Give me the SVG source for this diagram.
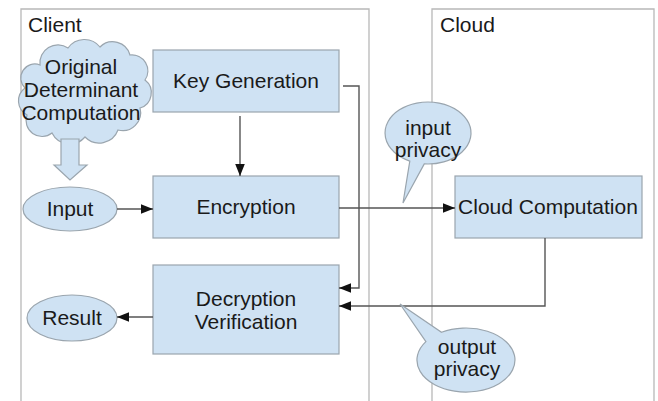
<svg xmlns="http://www.w3.org/2000/svg" width="658" height="401" viewBox="0 0 658 401">
<style>
text{font-family:"Liberation Sans",Arial,sans-serif;font-size:21px;fill:#1a1a1a;text-anchor:middle}
.lbl{text-anchor:start}
.frame{fill:none;stroke:#b8b8b8;stroke-width:1.3}
.box{fill:#cfe2f3;stroke:#9aa5ae;stroke-width:1.2}
.con{fill:none;stroke:#555;stroke-width:1.4}
</style>
<defs>
<marker id="ah" viewBox="0 0 10 10" refX="10" refY="5" markerWidth="12" markerHeight="12" markerUnits="userSpaceOnUse" orient="auto">
<path d="M0,1 L10,5 L0,9 Z" fill="#111"/>
</marker>
</defs>
<rect width="658" height="401" fill="#fff"/>
<g id="client-frame">
<path class="frame" d="M21,401 V9 H369 V401"/>
<text class="lbl" x="28" y="32">Client</text>
</g>
<g id="cloud-frame">
<path class="frame" d="M432,401 V9 H654 V401"/>
<text class="lbl" x="440" y="32">Cloud</text>
</g>
<g id="original">
<path class="box" d="M40,65 A18,18 0 0 1 68,48 A20,20 0 0 1 100,47 A18,18 0 0 1 130,55 A16,16 0 0 1 145,80 A16,16 0 0 1 140,108 A18,18 0 0 1 118,130 A20,20 0 0 1 85,137 A20,20 0 0 1 52,133 A16,16 0 0 1 27,115 A16,16 0 0 1 25,88 A14,14 0 0 1 40,65 Z"/>
<text x="81" y="74">Original</text>
<text x="81" y="97">Determinant</text>
<text x="81" y="120">Computation</text>
</g>
<g id="block-arrow">
<path class="box" d="M61,139 H79 V165 H87 L70,180 L54,165 H61 Z"/>
</g>
<g id="keygen">
<rect class="box" x="153" y="50" width="186" height="62"/>
<text x="246" y="88">Key Generation</text>
</g>
<g id="encryption">
<rect class="box" x="153" y="176" width="186" height="62"/>
<text x="246" y="214">Encryption</text>
</g>
<g id="decryption">
<rect class="box" x="153" y="265" width="186" height="89"/>
<text x="246" y="306">Decryption</text>
<text x="246" y="329">Verification</text>
</g>
<g id="input">
<ellipse class="box" cx="70" cy="209" rx="47" ry="22"/>
<text x="70" y="216">Input</text>
</g>
<g id="result">
<ellipse class="box" cx="72" cy="318" rx="45" ry="23"/>
<text x="72" y="325">Result</text>
</g>
<g id="cloudcomp">
<rect class="box" x="455" y="176" width="187" height="62"/>
<text x="548" y="214">Cloud Computation</text>
</g>
<g id="connectors">
<path class="con" d="M240,116 V176" marker-end="url(#ah)"/>
<path class="con" d="M117,209 H153" marker-end="url(#ah)"/>
<path class="con" d="M339,208 H455" marker-end="url(#ah)"/>
<path class="con" d="M343,86 H359 V288 H339" marker-end="url(#ah)"/>
<path class="con" d="M545,238 V306 H339" marker-end="url(#ah)"/>
<path class="con" d="M153,317 H117" marker-end="url(#ah)"/>
</g>
<g id="input-privacy">
<path class="box" d="M424.3,163.9 L403,203 L409.8,161.1 A43,31 0 1 1 424.3,163.9 Z"/>
<text x="428" y="135">input</text>
<text x="428" y="157">privacy</text>
</g>
<g id="output-privacy">
<path class="box" d="M425.9,341.6 L400,304 L441.5,332.3 A49,32 0 1 1 425.9,341.6 Z"/>
<text x="467" y="354">output</text>
<text x="467" y="376">privacy</text>
</g>
</svg>
